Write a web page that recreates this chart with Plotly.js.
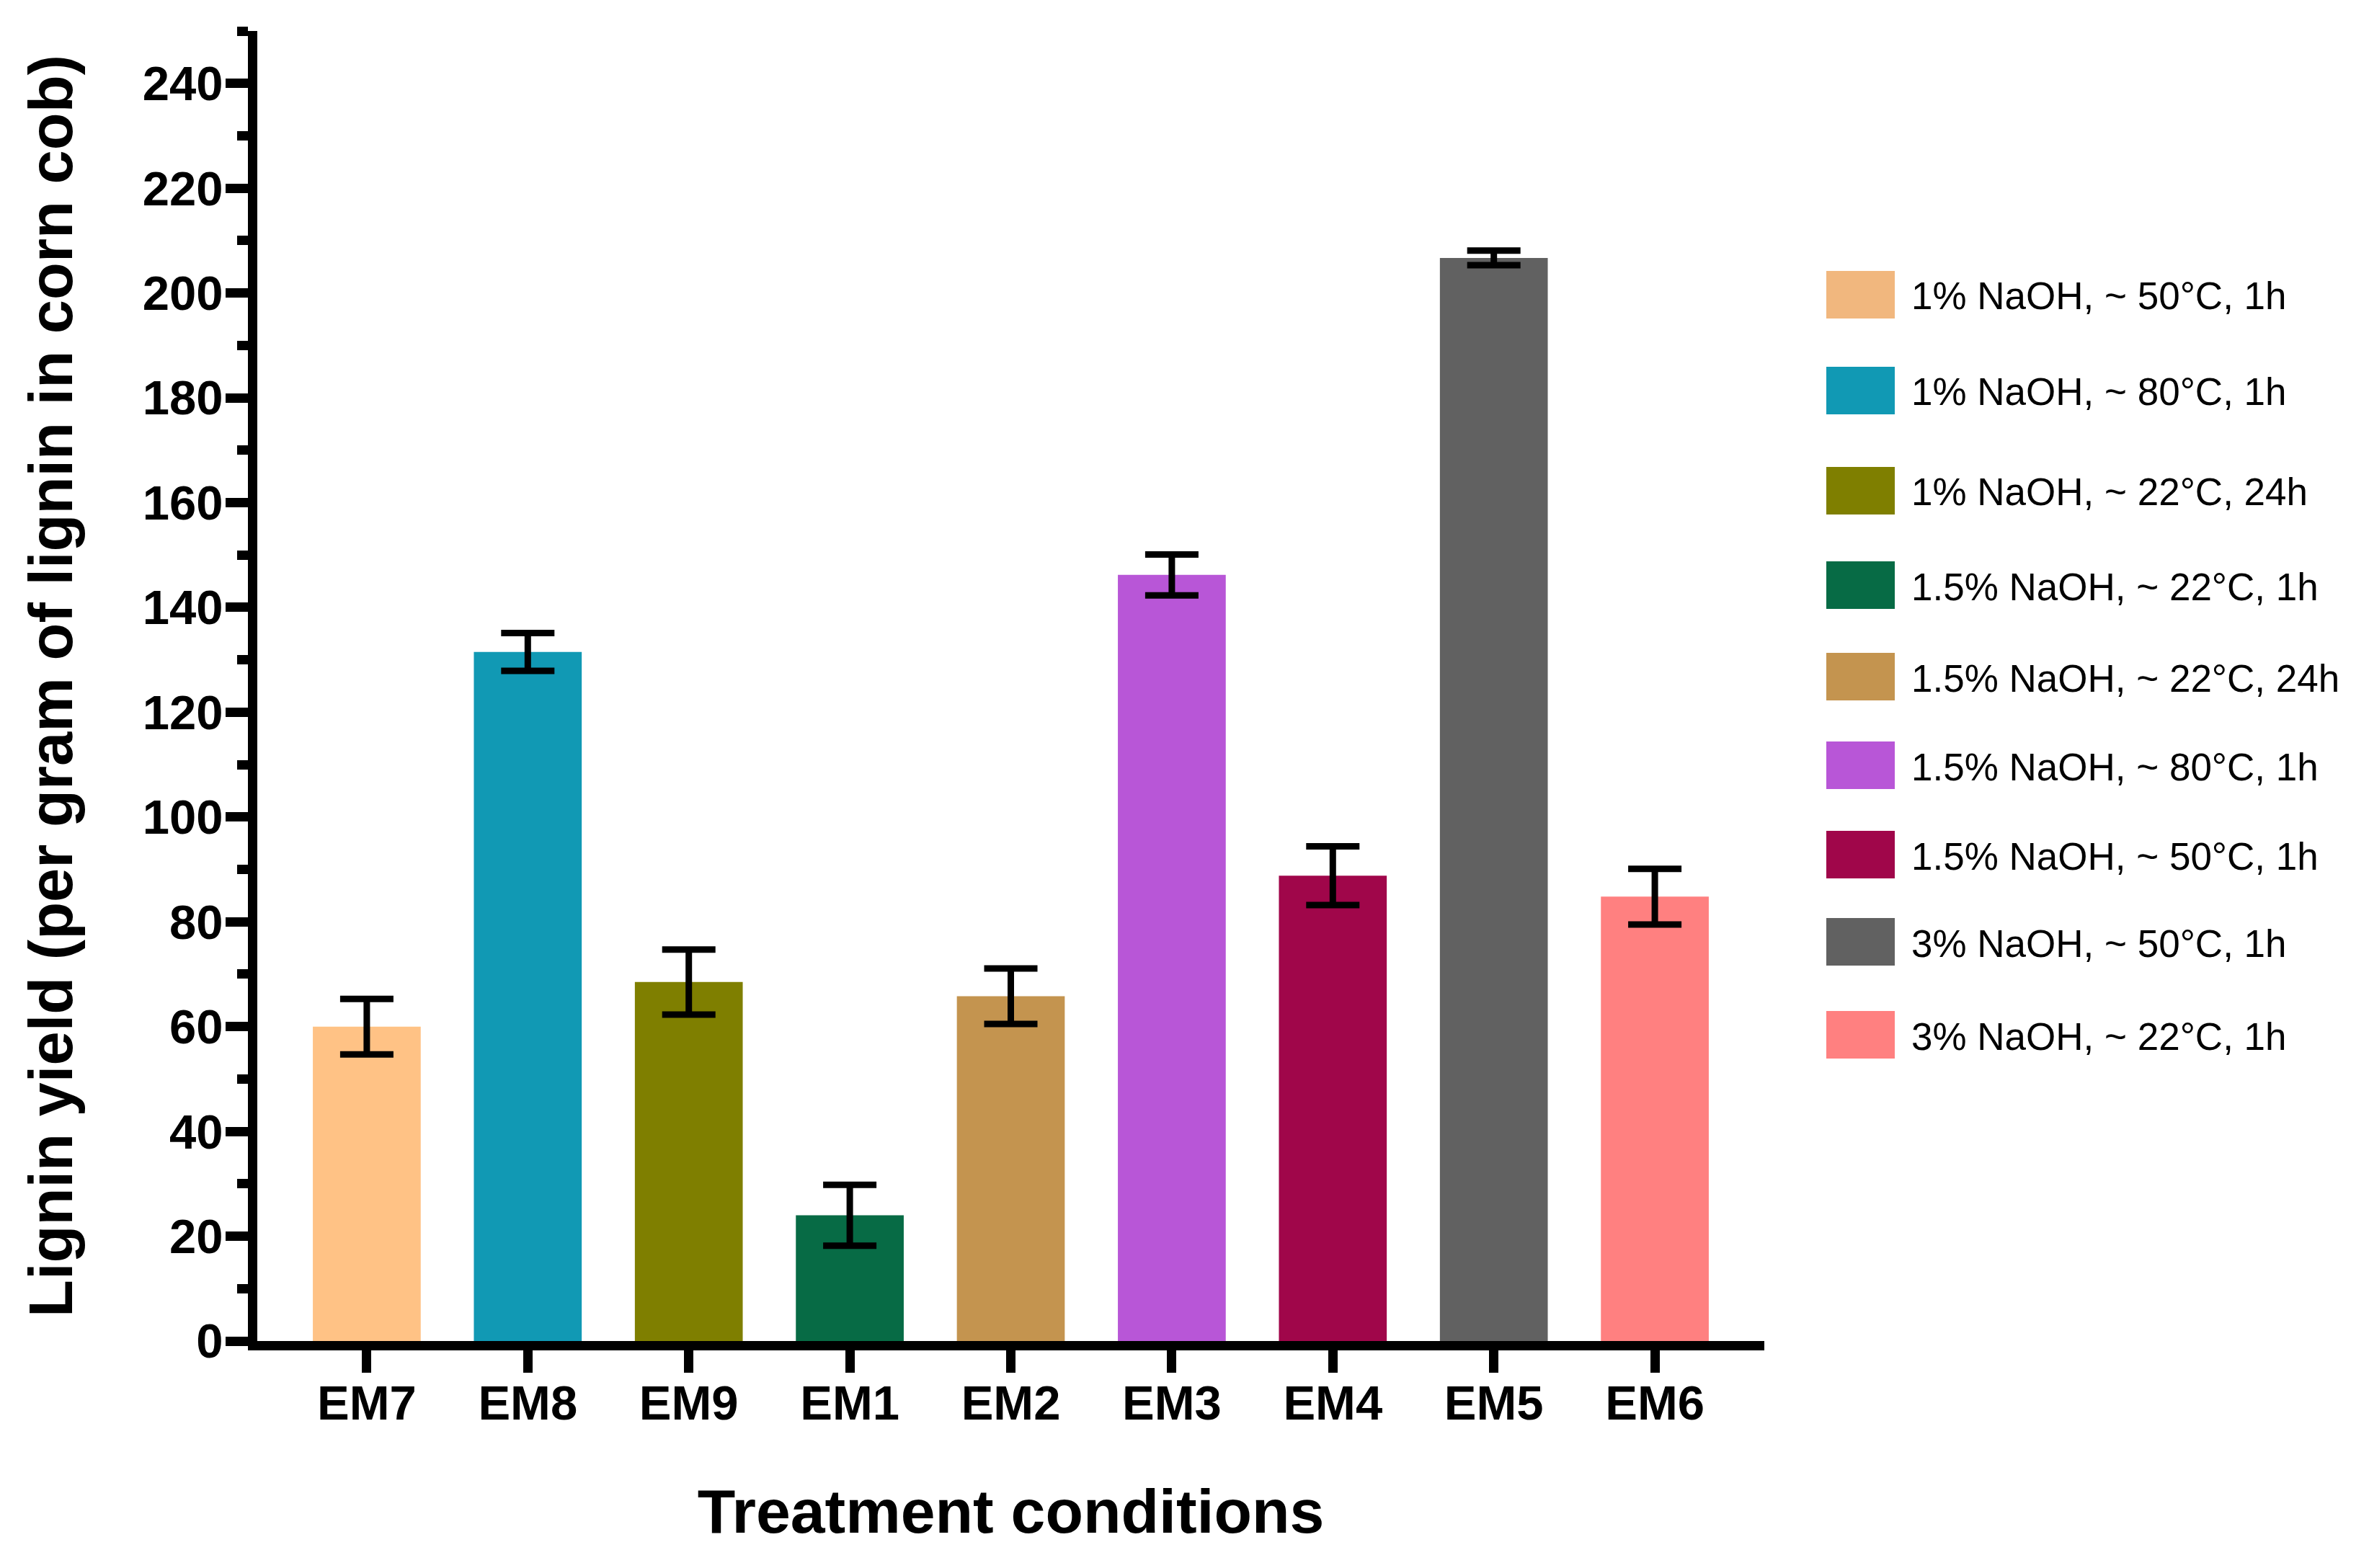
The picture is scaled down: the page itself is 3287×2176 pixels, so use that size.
<!DOCTYPE html>
<html><head><meta charset="utf-8">
<script src="https://cdn.plot.ly/plotly-3.0.1.min.js"></script>
<style>
html,body{margin:0;padding:0;background:#fff}
</style></head>
<body><div id="chart" style="width:3287px;height:2176px"></div>
<script>
// ---- data ----
const categories = ['EM7','EM8','EM9','EM1','EM2','EM3','EM4','EM5','EM6'];
const yieldValues = [60.0, 131.5, 68.5, 24.0, 65.8, 146.2, 88.8, 206.7, 84.8];
const errorValues = [5.3, 3.6, 6.2, 5.8, 5.3, 3.9, 5.6, 1.4, 5.3];
const conditionLabels = [
  '1% NaOH, ~ 50°C, 1h',
  '1% NaOH, ~ 80°C, 1h',
  '1% NaOH, ~ 22°C, 24h',
  '1.5% NaOH, ~ 22°C, 1h',
  '1.5% NaOH, ~ 22°C, 24h',
  '1.5% NaOH, ~ 80°C, 1h',
  '1.5% NaOH, ~ 50°C, 1h',
  '3% NaOH, ~ 50°C, 1h',
  '3% NaOH, ~ 22°C, 1h'
];
const barColors = ['#FFC285','#1199B4','#7F7F00','#076B45','#C4944F','#B856D7','#A0064A','#616161','#FF8080'];
const legendColors = ['#F1B77E','#1199B4','#7F7F00','#076B45','#C4944F','#B856D7','#A0064A','#616161','#FF8080'];

// ---- layout constants (pixels) ----
const W = 3287, H = 2176;
const M = {l:357, r:839, t:43, b:315};
const plotW = W - M.l - M.r, plotH = H - M.t - M.b;
const px2x = px => (px - M.l) / plotW;
const px2y = py => (H - M.b - py) / plotH;
const FONT = 'Liberation Sans, Arial, Helvetica, sans-serif';
const legendRowY = [409, 542, 681, 812, 939, 1062, 1186, 1307, 1436];
const swW = 95, swH = 66, swX = 2534, txtX = 2650;

const traces = categories.map((c, i) => ({
  type: 'bar',
  x: [c],
  y: [yieldValues[i]],
  name: conditionLabels[i],
  width: 0.67,
  marker: {color: barColors[i], line: {width: 0}},
  error_y: {type: 'data', array: [errorValues[i]], visible: true, color: '#000', thickness: 9, width: 37},
  showlegend: false,
  hoverinfo: 'x+y'
}));

const shapes = [], annotations = [];
conditionLabels.forEach((lab, i) => {
  const cy = legendRowY[i];
  shapes.push({type: 'rect', xref: 'paper', yref: 'paper',
    x0: px2x(swX), x1: px2x(swX + swW), y0: px2y(cy + swH/2), y1: px2y(cy - swH/2),
    fillcolor: legendColors[i], line: {width: 0}});
  annotations.push({xref: 'paper', yref: 'paper', x: px2x(txtX), y: px2y(cy + 2),
    xanchor: 'left', yanchor: 'middle', align: 'left', showarrow: false, text: lab,
    font: {family: FONT, size: 53, color: '#000'}});
});

const layout = {
  width: W, height: H,
  margin: M,
  paper_bgcolor: '#fff', plot_bgcolor: '#fff',
  barmode: 'overlay',
  showlegend: false,
  font: {family: FONT, color: '#000'},
  xaxis: {
    type: 'category', categoryorder: 'array', categoryarray: categories,
    range: [-0.68, 8.68],
    showline: true, linewidth: 13, linecolor: '#000',
    ticks: 'outside', ticklen: 31, tickwidth: 13, tickcolor: '#000',
    ticklabelstandoff: -15,
    showgrid: false, zeroline: false,
    tickfont: {family: FONT, size: 67, weight: 'bold', color: '#000'},
    title: {text: 'Treatment conditions', standoff: 89,
      font: {family: FONT, size: 86, weight: 'bold', color: '#000'}}
  },
  yaxis: {
    range: [0, 250], tickmode: 'linear', tick0: 0, dtick: 20,
    showline: true, linewidth: 13, linecolor: '#000',
    ticks: 'outside', ticklen: 31, tickwidth: 13, tickcolor: '#000',
    ticklabelstandoff: -10,
    minor: {dtick: 10, ticks: 'outside', ticklen: 15, tickwidth: 13, tickcolor: '#000'},
    showgrid: false, zeroline: false,
    tickfont: {family: FONT, size: 67, weight: 'bold', color: '#000'},
    title: {text: 'Lignin yield (per gram of lignin in corn cob)', standoff: 75,
      font: {family: FONT, size: 85, weight: 'bold', color: '#000'}}
  },
  shapes: shapes,
  annotations: annotations
};

Plotly.newPlot('chart', traces, layout, {displayModeBar: false, staticPlot: true});
</script>
</body></html>
